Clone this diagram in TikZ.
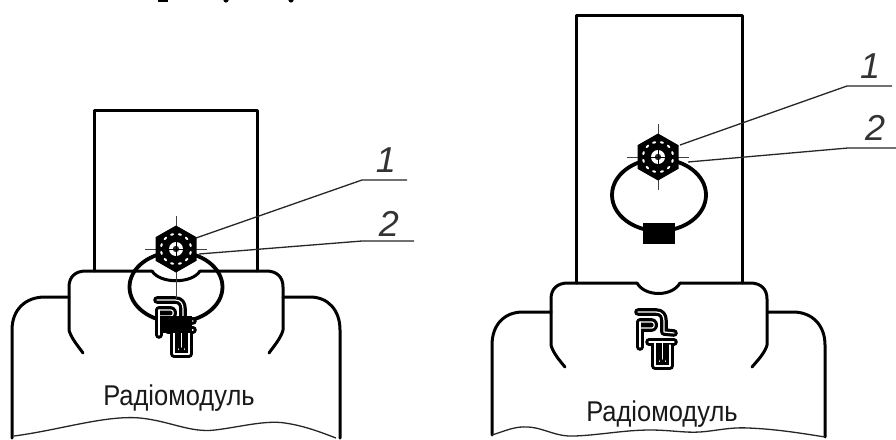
\documentclass[tikz,border=0pt]{standalone}
\usepackage{fontspec}
\setmainfont{Liberation Sans}
\tikzset{
  heavy/.style={line width=3pt,line cap=round,line join=round},
  thinline/.style={line width=1.3pt,black!85},
  leader/.style={line width=1.3pt,black!85},
  axisline/.style={line width=0.9pt,black!75},
  ringline/.style={line width=3.8pt},
  caption/.style={font=\fontsize{25.5}{26}\selectfont,inner sep=0pt,yscale=1.12,black!90},
  numlabel/.style={font=\fontsize{36}{36}\selectfont\itshape,inner sep=0pt,black!80},
  pics/logo/.style={code={
    \foreach \w/\c in {7.6pt/black,1.2pt/white}{
      \draw[line width=\w,\c,line cap=round,line join=round]
        (0,0) -- (18,0) .. controls (24,0) and (26,4) .. (26,9) -- (26,20) -- (36,21);
      \draw[line width=\w,\c,line cap=round,line join=round]
        (2,10) -- (2,35);
      \draw[line width=\w,\c,line cap=round,line join=round]
        (2,10) -- (14,10) .. controls (17,10) and (17,16) .. (14,16) -- (3,16);
      \draw[line width=\w,\c,line cap=round,line join=round]
        (11,30) -- (36,30);
      \draw[line width=\w,\c,line cap=round,line join=round]
        (17,31) -- (17,54) -- (32,54) -- (32,33);
      \draw[line width=\w,\c,line cap=round,line join=round]
        (24.5,30) -- (24.5,47);
    }
  }},
  pics/nut/.style={code={
    \draw[axisline] (0,-33) -- (0,33) (-31,0) -- (31,0);
    \fill[black] (0,-23.5) -- (20.5,-11.8) -- (20.5,11.8) -- (0,23.5) -- (-20.5,11.8) -- (-20.5,-11.8) -- cycle;
    \foreach \a in {15,45,...,345}
      \fill[white,rotate=\a] (15,0) ellipse (1.1 and 2);
    \fill[white] (0,0) circle (7);
    \fill[black!85] (0,0) circle (3.2);
    \draw[line width=1pt,black] (0,-7) -- (0,7) (-7,0) -- (7,0);
  }}
}
\begin{document}
\begin{tikzpicture}[x=1pt,y=-1pt]
\useasboundingbox (0,0) rectangle (896,439);
\fill[white] (0,0) rectangle (896,439);

% fragments of the line of text cut off by the top edge
\fill[black] (158,0) rectangle (168,2);
\fill[black] (226,0) circle (2.6);
\fill[black] (291,0) circle (2.6);

% Left assembly
\coordinate (LB) at (176,249);
\coordinate (LL1) at (362,180);
\coordinate (LE1) at (407,180);
\coordinate (LL2) at (362,241);
\coordinate (LE2) at (414,241);
\draw[heavy] (94,271) -- (94,110) -- (257,110) -- (257,271);
\draw[heavy] (152,271) -- (86,271) .. controls (75,271) and (69,277) .. (69,287) -- (69,330) .. controls (71,338) and (78,346) .. (83,353);
\draw[heavy] (200,271) -- (266,271) .. controls (277,271) and (283,277) .. (283,287) -- (283,330) .. controls (281,338) and (274,346) .. (269,353);
\draw[heavy] (152,271) .. controls (160,284) and (192,284) .. (200,271);
\draw[heavy] (69,297) -- (45,297) .. controls (25,297) and (12,310) .. (12,330) -- (12,438);
\draw[heavy] (283,297) -- (310,297) .. controls (328,297) and (340,310) .. (340,330) -- (340,438);
\draw[thinline] (14,436) .. controls (60,430) and (105,415) .. (140,418) .. controls (170,421) and (190,433) .. (215,430) .. controls (240,427) and (265,420) .. (285,423) .. controls (305,426) and (320,432) .. (336,438);
\draw[ringline] (176,287) ellipse (46.5 and 35);
\pic at (157,300) {logo};
\fill[black] (160,316) rectangle (192,333);
\pic at (LB) {nut};
\draw[axisline] (176,280) -- (176,300);
\draw[leader] (196,238) -- (LL1) -- (LE1);
\draw[leader] (199,254) -- (LL2) -- (LE2);
\node[numlabel] (la1) at (386,160) {1};
\node[numlabel] (la2) at (389,224) {2};
\node[caption] (cap1) at (179,398) {Радіомодуль};

% Right assembly
\coordinate (RB) at (658,157);
\coordinate (RL1) at (847,86);
\coordinate (RE1) at (892,86);
\coordinate (RL2) at (848,148);
\coordinate (RE2) at (896,148);
\draw[heavy] (576,283) -- (576,15) -- (742,15) -- (742,283);
\draw[heavy] (637,283) -- (568,283) .. controls (557,283) and (551,289) .. (551,299) -- (551,345) .. controls (553,353) and (560,361) .. (565,367);
\draw[heavy] (680,283) -- (750,283) .. controls (761,283) and (767,289) .. (767,299) -- (767,345) .. controls (765,353) and (757,361) .. (752,367);
\draw[heavy] (637,283) .. controls (645,297) and (672,297) .. (680,283);
\draw[heavy] (551,312) -- (523,312) .. controls (504,312) and (492,325) .. (492,345) -- (492,435);
\draw[heavy] (767,312) -- (793,312) .. controls (812,312) and (825,325) .. (825,345) -- (825,437);
\draw[thinline] (492,435) .. controls (505,431) and (515,426) .. (528,427) .. controls (545,428) and (555,437) .. (575,436) .. controls (600,435) and (625,430) .. (650,430) .. controls (670,430) and (685,433) .. (700,432) .. controls (715,431) and (730,427) .. (748,428) .. controls (775,429) and (800,433) .. (825,437);
\draw[ringline] (659,195) ellipse (47 and 36);
\fill[black] (643,223) rectangle (675,244);
\pic at (RB) {nut};
\pic at (638,312) {logo};
\draw[leader] (680,145) -- (RL1) -- (RE1);
\draw[leader] (688,162) -- (RL2) -- (RE2);
\node[numlabel] (ra1) at (870,66) {1};
\node[numlabel] (ra2) at (875,128) {2};
\node[caption] (cap2) at (662,414) {Радіомодуль};
\end{tikzpicture}
\end{document}
